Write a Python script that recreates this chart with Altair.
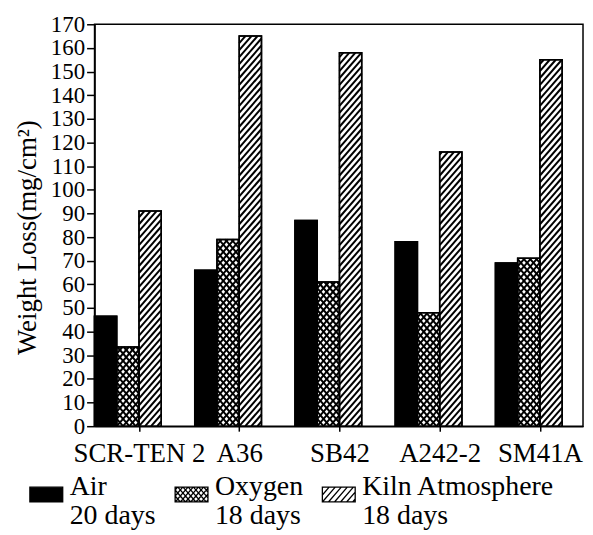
import altair as alt
import pandas as pd
import numpy as np

# ---------------- data ----------------
categories = ["SCR-TEN 2", "A36", "SB42", "A242-2", "SM41A"]
series = ["Air", "Oxygen", "Kiln Atmosphere"]
durations = ["20 days", "18 days", "18 days"]
air = [46.5, 66, 87, 78, 69]
oxygen = [33.5, 79, 61, 48, 71]
kiln = [91, 165, 158, 116, 155]
y_ticks = list(range(0, 171, 10))

# ---------------- layout constants ----------------
W, H = 491, 404
XMIN, XMAX = -0.3325, 4.541
YMAX = 170
PX = W / (XMAX - XMIN)
PY = H / YMAX
BW = 0.222
FONT = "Liberation Serif"

keys = [f"{s}|{d}" for s, d in zip(series, durations)]
values = [air, oxygen, kiln]

rows = []
for gi, cat in enumerate(categories):
    for si in range(3):
        xl = gi + (si - 1.5) * BW
        rows.append(dict(cat=cat, series=series[si], key=keys[si],
                         x0=xl, x1=xl + BW, xc=xl + BW / 2, v=values[si][gi]))
bars = pd.DataFrame(rows)


def hatch(w, h, slope, d, phase=0.0):
    segs = []
    if slope > 0:
        cmin, cmax = -slope * w, h
    else:
        cmin, cmax = 0, h - slope * w
    k0 = int(np.floor((cmin - phase) / d))
    k1 = int(np.ceil((cmax - phase) / d))
    for k in range(k0, k1 + 1):
        c = phase + k * d
        xa, xb = (0 - c) / slope, (h - c) / slope
        lo, hi = max(0.0, min(xa, xb)), min(w, max(xa, xb))
        if hi - lo > 0.3:
            segs.append((lo, slope * lo + c, hi, slope * hi + c))
    return segs


SLOPE = 1.15
D_KILN = 7.0
D_OXY = 7.3

hrows = []
for _, r in bars.iterrows():
    if r.series == "Air":
        continue
    w_px = BW * PX
    h_px = r.v * PY
    fams = [(SLOPE, D_KILN)] if r.series == "Kiln Atmosphere" else [(SLOPE, D_OXY), (-SLOPE, D_OXY)]
    for s, d in fams:
        for (xa, ya, xb, yb) in hatch(w_px, h_px, s, d):
            hrows.append(dict(series=r.series,
                              hx0=r.x0 + xa / PX, hy0=ya / PY,
                              hx1=r.x0 + xb / PX, hy1=yb / PY))
hatch_df = pd.DataFrame(hrows)

# ---------------- legend swatch paths ----------------
SW = 33.0
HALF = SW / 2
HY = 0.45


def swatch(kind):
    p = f"M-1,-{HY}H1V{HY}H-1Z"
    if kind == "solid":
        return p
    w, h = SW, 2 * HY * HALF
    fams = [(SLOPE, D_KILN)] if kind == "kiln" else [(SLOPE, 6.0), (-SLOPE, 6.0)]
    for s, d in fams:
        for (xa, ya, xb, yb) in hatch(w, h, s, d):
            p += (f"M{-1 + xa / HALF:.3f},{HY - ya / HALF:.3f}"
                  f"L{-1 + xb / HALF:.3f},{HY - yb / HALF:.3f}")
    return p


shape_range = [swatch("solid"), swatch("oxy"), swatch("kiln")]

xscale = alt.Scale(domain=[XMIN, XMAX], nice=False, zero=False)
yscale = alt.Scale(domain=[0, YMAX], nice=False)

label_js = "[" + ",".join(f"'{c}'" for c in categories) + "]"
x_axis = alt.Axis(values=[i + BW / 2 for i in range(len(categories))],
                  labelExpr=f"{label_js}[floor(datum.value)]",
                  title=None, grid=False, tickSize=5, labelPadding=9,
                  labelFontSize=27, labelFont=FONT, labelColor="black",
                  tickColor="black", domainColor="black", tickWidth=1.5,
                  domainWidth=1.5, labelFlush=False, labelOverlap=False)
y_axis = alt.Axis(values=y_ticks, title="Weight Loss(mg/cm²)", grid=False,
                  tickSize=8, labelPadding=2, labelFontSize=23, labelFont=FONT,
                  labelColor="black", tickColor="black", domainColor="black",
                  tickWidth=1.5, domainWidth=1.5, labelOverlap=False,
                  titleFont=FONT, titleFontSize=27, titleFontWeight="normal",
                  titleColor="black", titleAngle=270, titleAlign="center",
                  titleBaseline="middle", titleX=-67, titleY=214)

base = alt.Chart(bars)

bar_layer = base.mark_bar(stroke="black", strokeWidth=1.5).encode(
    x=alt.X("x0:Q", scale=xscale, axis=x_axis),
    x2="x1:Q",
    y=alt.Y("v:Q", scale=yscale, axis=y_axis),
    y2=alt.datum(0),
    fill=alt.condition(alt.datum.series == "Air", alt.value("black"), alt.value("white")),
)

kiln_hatch = alt.Chart(hatch_df).transform_filter(
    alt.datum.series == "Kiln Atmosphere"
).mark_rule(color="black", strokeWidth=2.0).encode(
    x=alt.X("hx0:Q", scale=xscale, axis=x_axis),
    x2="hx1:Q",
    y=alt.Y("hy0:Q", scale=yscale, axis=y_axis),
    y2="hy1:Q",
)

oxy_hatch = alt.Chart(hatch_df).transform_filter(
    alt.datum.series == "Oxygen"
).mark_rule(color="black", strokeWidth=2.0).encode(
    x=alt.X("hx0:Q", scale=xscale, axis=x_axis),
    x2="hx1:Q",
    y=alt.Y("hy0:Q", scale=yscale, axis=y_axis),
    y2="hy1:Q",
)

outline = base.mark_bar(stroke="black", strokeWidth=1.5, fillOpacity=0).encode(
    x=alt.X("x0:Q", scale=xscale, axis=x_axis),
    x2="x1:Q",
    y=alt.Y("v:Q", scale=yscale, axis=y_axis),
    y2=alt.datum(0),
)

legend = alt.Legend(orient="none", legendX=-66, legendY=455, direction="horizontal",
                    columns=3, title=None, symbolSize=SW * SW,
                    symbolStrokeColor="black", symbolStrokeWidth=1.3,
                    symbolOpacity=1, labelFont=FONT, labelFontSize=28,
                    labelColor="black", labelOffset=6, columnPadding=16,
                    labelBaseline="alphabetic", labelLimit=400,
                    labelExpr="split(datum.label, '|')")

legend_layer = base.mark_point(filled=True, opacity=1, size=0).encode(
    x=alt.X("xc:Q", scale=xscale, axis=x_axis),
    y=alt.Y("v:Q", scale=yscale, axis=y_axis),
    fill=alt.Fill("key:N", scale=alt.Scale(domain=keys, range=["black", "white", "white"]),
                  legend=legend),
    shape=alt.Shape("key:N", scale=alt.Scale(domain=keys, range=shape_range),
                    legend=legend),
    stroke=alt.Stroke("key:N", scale=alt.Scale(domain=keys, range=["black", "black", "black"]),
                      legend=legend),
    strokeWidth=alt.value(1.3),
)

chart = alt.layer(bar_layer, kiln_hatch, oxy_hatch, outline, legend_layer).properties(
    width=W, height=H,
    background="white",
    autosize=alt.AutoSizeParams(type="none"),
    padding={"left": 87, "top": 15, "right": 2, "bottom": 105},
).configure_view(stroke="black", strokeWidth=1.5)

chart.save("out.html", embed_options={"renderer": "svg", "actions": False})
